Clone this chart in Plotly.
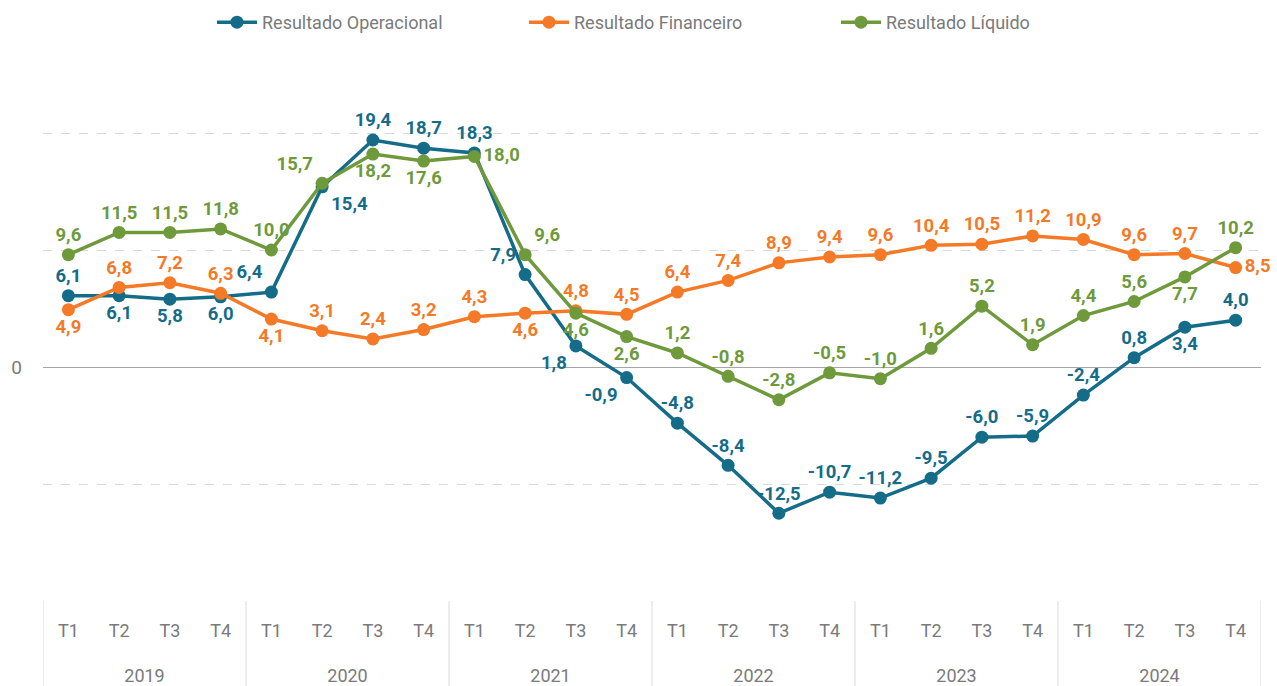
import plotly.graph_objects as go

years = ["2019", "2020", "2021", "2022", "2023", "2024"]
quarters = ["T1", "T2", "T3", "T4"]

operacional = [6.1, 6.1, 5.8, 6.0, 6.4, 15.4, 19.4, 18.7, 18.3, 7.9, 1.8, -0.9,
               -4.8, -8.4, -12.5, -10.7, -11.2, -9.5, -6.0, -5.9, -2.4, 0.8, 3.4, 4.0]
financeiro = [4.9, 6.8, 7.2, 6.3, 4.1, 3.1, 2.4, 3.2, 4.3, 4.6, 4.8, 4.5,
              6.4, 7.4, 8.9, 9.4, 9.6, 10.4, 10.5, 11.2, 10.9, 9.6, 9.7, 8.5]
liquido = [9.6, 11.5, 11.5, 11.8, 10.0, 15.7, 18.2, 17.6, 18.0, 9.6, 4.6, 2.6,
           1.2, -0.8, -2.8, -0.5, -1.0, 1.6, 5.2, 1.9, 4.4, 5.6, 7.7, 10.2]

pos_op = ["top center", "bottom center", "bottom center", "bottom center", "top left",
          "bottom right", "top center", "top center", "top center", "top left",
          "bottom left", "bottom left"] + ["top center"] * 10 + ["bottom center", "top center"]
pos_fin = ["bottom center", "top center", "top center", "top center", "bottom center",
           "top center", "top center", "top center", "top center", "bottom center",
           "top center"] + ["top center"] * 12 + ["middle right"]
pos_liq = ["top center"] * 5 + ["top left", "bottom center", "bottom center", "middle right",
                                "top right", "bottom center", "bottom center"] + \
          ["top center"] * 10 + ["bottom center", "top center"]

n_q = len(quarters)
idx = list(range(len(years) * n_q))
q_labels = [q for _ in years for q in quarters]
year_centers = [i * n_q + (n_q - 1) / 2 for i in range(len(years))]
boundaries = [i * n_q - 0.5 for i in range(len(years) + 1)]


def fmt(v):
    return f"{v:.1f}".replace(".", ",")


series = [
    ("Resultado Operacional", operacional, "#146C89", pos_op),
    ("Resultado Financeiro", financeiro, "#F47A27", pos_fin),
    ("Resultado Líquido", liquido, "#6E9A3C", pos_liq),
]

FONT = "Roboto"
GRAY = "#7a7a7a"

fig = go.Figure()
for name, vals, color, pos in series:
    fig.add_trace(go.Scatter(
        x=idx, y=vals, name=name, mode="lines+markers+text",
        line=dict(color=color, width=3.5),
        marker=dict(color=color, size=13),
        text=[fmt(v) for v in vals], textposition=pos,
        textfont=dict(family=FONT, size=18.5, color=color, weight="bold"),
        cliponaxis=False,
    ))

# invisible trace to activate the year axis
fig.add_trace(go.Scatter(x=year_centers, y=[0] * len(years), xaxis="x2",
                         mode="markers", marker=dict(opacity=0), showlegend=False,
                         hoverinfo="skip"))

W, H = 1277, 686
L, R = 43, 16
plot_bottom = 601
plot_top = 74.5

for b in boundaries:
    fig.add_shape(type="line", xref="x", yref="paper", x0=b, x1=b,
                  y0=0, y1=(H - plot_bottom) / H,
                  line=dict(color="#d9d9d9", width=1))

fig.update_layout(
    width=W, height=H,
    margin=dict(l=L, r=R, t=0, b=0, autoexpand=False),
    paper_bgcolor="white", plot_bgcolor="white",
    showlegend=True,
    legend=dict(orientation="h", x=(212 - L) / (W - L - R), xanchor="left",
                y=1.0 - 4 / H, yanchor="top",
                font=dict(family=FONT, size=18, color=GRAY),
                entrywidth=257, itemwidth=40, traceorder="normal",
                bgcolor="rgba(0,0,0,0)"),
    xaxis=dict(range=[-0.5, len(idx) - 0.5], tickvals=idx, ticktext=q_labels,
               showgrid=False, showline=False, zeroline=False, ticks="",
               anchor="free", position=(H - 618) / H, automargin=False,
               tickfont=dict(family=FONT, size=18, color=GRAY)),
    xaxis2=dict(range=[-0.5, len(idx) - 0.5], tickvals=year_centers, ticktext=years,
                overlaying="x", side="bottom", showgrid=False, showline=False,
                zeroline=False, ticks="", anchor="free", position=(H - 663) / H,
                automargin=False,
                tickfont=dict(family=FONT, size=18, color=GRAY)),
    yaxis=dict(range=[-20, 25], domain=[(H - plot_bottom) / H, (H - plot_top) / H],
               tickvals=[-20, -10, 0, 10, 20],
               ticktext=["", "", "0", "", ""], showgrid=True, gridcolor="#d9d9d9",
               griddash="dash", gridwidth=1.3, zeroline=True, zerolinecolor="#a6a6a6",
               zerolinewidth=1.3, showline=False, ticks="", automargin=False,
               ticklabelstandoff=20,
               tickfont=dict(family=FONT, size=19, color=GRAY)),
)

fig.write_html("out.html", config={"displayModeBar": False},
               post_script="document.body.style.margin='0';")
